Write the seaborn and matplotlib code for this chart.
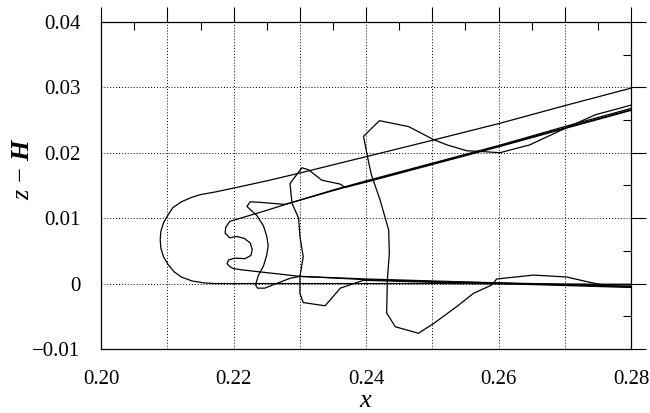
import numpy as np
import pandas as pd
import matplotlib
matplotlib.use("Agg")
import matplotlib.pyplot as plt
import seaborn as sns

# Smooth reference profile: upper flank, rounded nose, bed
smooth_x = [0.2801, 0.2700, 0.2602, 0.2500, 0.2400, 0.2300, 0.2250, 0.2200, 0.2172,
            0.2150, 0.2137, 0.2121, 0.2108, 0.2101, 0.2094, 0.2090, 0.2089, 0.2090,
            0.2094, 0.2101, 0.2110, 0.2121, 0.2137, 0.2155, 0.2172,
            0.2300, 0.2500, 0.2700, 0.2801]
smooth_y = [0.0299, 0.0272, 0.0245, 0.0219, 0.0194, 0.0169, 0.0157, 0.0146, 0.0140,
            0.0136, 0.0132, 0.0125, 0.0116, 0.0105, 0.0093, 0.0080, 0.0067, 0.0054,
            0.0041, 0.0029, 0.0018, 0.0010, 0.0004, 0.0001, 0.0000,
            0.0000, 0.0000, -0.0001, -0.0001]

# Profile with the small wavy head
wavy_x = [0.2801, 0.2700, 0.2600, 0.2500, 0.2400, 0.2350, 0.2288, 0.2250, 0.2194,
          0.2188, 0.2187, 0.2194, 0.2205, 0.2216, 0.2225, 0.2228, 0.2226, 0.2217,
          0.2202, 0.2192, 0.2190, 0.2194, 0.2199, 0.2212,
          0.2300, 0.2400, 0.2500, 0.2600, 0.2700, 0.2801]
wavy_y = [0.0266, 0.0238, 0.0210, 0.0183, 0.0156, 0.0142, 0.0124, 0.0112, 0.0095,
          0.0086, 0.0077, 0.0070, 0.0072, 0.0069, 0.0062, 0.0052, 0.0043, 0.0038,
          0.0039, 0.0036, 0.0030, 0.0026, 0.0023, 0.0021,
          0.0011, 0.0006, 0.0003, 0.0001, -0.0001, -0.0002]

# Profile with the C-shaped head
cshape_x = [0.2801, 0.2700, 0.2600, 0.2500, 0.2400, 0.2350, 0.2288,
            0.2277, 0.2242, 0.2225, 0.2220, 0.2225, 0.2235, 0.2245, 0.2250, 0.2252,
            0.2250, 0.2245, 0.2237, 0.2233, 0.2236, 0.2247, 0.2262, 0.2285, 0.2300,
            0.2400, 0.2500, 0.2600, 0.2700, 0.2801]
cshape_y = [0.0268, 0.0240, 0.0211, 0.0184, 0.0157, 0.0143, 0.0124,
            0.0121, 0.0124, 0.0125, 0.0118, 0.0113, 0.0104, 0.0088, 0.0072, 0.0058,
            0.0044, 0.0027, 0.0012, -0.0002, -0.0007, -0.0007, -0.0001, 0.0008, 0.0011,
            0.0007, 0.0004, 0.0001, -0.0002, -0.0004]

# Profile with the narrow jagged head
narrow_x = [0.2801, 0.2700, 0.2600, 0.2500, 0.2400, 0.2368,
            0.2361, 0.2333, 0.2313, 0.2303, 0.2285, 0.2288, 0.2298, 0.2300, 0.2305,
            0.2300, 0.2300, 0.2305, 0.2338, 0.2361, 0.2396,
            0.2500, 0.2600, 0.2700, 0.2801]
narrow_y = [0.0265, 0.0237, 0.0209, 0.0182, 0.0155, 0.0147,
            0.0152, 0.0158, 0.0174, 0.0177, 0.0153, 0.0123, 0.0100, 0.0072, 0.0041,
            0.0011, -0.0015, -0.0029, -0.0034, -0.0007, 0.0005,
            0.0002, 0.0000, -0.0003, -0.0006]

# Profile with the wide jagged head
wide_x = [0.2801, 0.2746, 0.2700, 0.2647, 0.2602, 0.2572, 0.2552, 0.2522, 0.2502,
          0.2464, 0.2420, 0.2396, 0.2403, 0.2408, 0.2421, 0.2434, 0.2435, 0.2432,
          0.2431, 0.2444, 0.2479, 0.2502, 0.2537, 0.2562, 0.2590, 0.2597, 0.2653,
          0.2703, 0.2733, 0.2766, 0.2801]
wide_y = [0.0273, 0.0258, 0.0237, 0.0212, 0.0200, 0.0202, 0.0203, 0.0212, 0.0220,
          0.0240, 0.0249, 0.0225, 0.0189, 0.0166, 0.0128, 0.0082, 0.0046, 0.0005,
          -0.0045, -0.0066, -0.0076, -0.0061, -0.0035, -0.0015, -0.0002, 0.0007, 0.0013,
          0.0010, 0.0003, -0.0004, -0.0005]

x_major = [0.20, 0.21, 0.22, 0.23, 0.24, 0.25, 0.26, 0.27, 0.28]
x_labels = ["0.20", "", "0.22", "", "0.24", "", "0.26", "", "0.28"]
y_major = [-0.01, 0.0, 0.01, 0.02, 0.03, 0.04]
y_labels = ["\u22120.01", "0", "0.01", "0.02", "0.03", "0.04"]

profiles = {
    "smooth": (smooth_x, smooth_y),
    "wavy": (wavy_x, wavy_y),
    "cshape": (cshape_x, cshape_y),
    "narrow": (narrow_x, narrow_y),
    "wide": (wide_x, wide_y),
}
frames = []
for name, (xs, ys) in profiles.items():
    frames.append(pd.DataFrame({"x": xs, "y": ys, "profile": name}))
df = pd.concat(frames, ignore_index=True)

sns.set_theme(style="white")
plt.rcParams["font.family"] = ["Liberation Serif", "DejaVu Serif"]
plt.rcParams["mathtext.fontset"] = "custom"
plt.rcParams["mathtext.rm"] = "Liberation Serif"
plt.rcParams["mathtext.it"] = "Liberation Serif:italic"
plt.rcParams["mathtext.bf"] = "Liberation Serif:italic:bold"

fig = plt.figure(figsize=(6.5, 4.13), dpi=100)
ax = fig.add_axes([0.1558, 0.155, 0.815, 0.792])

sns.lineplot(data=df, x="x", y="y", units="profile", estimator=None, sort=False,
             color="black", linewidth=0.9, ax=ax, legend=False)

ax.set_xlim(0.20, 0.28)
ax.set_ylim(-0.01, 0.04)
ax.set_xticks(x_major)
ax.set_xticklabels(x_labels)
ax.set_xticks(np.arange(0.205, 0.28, 0.01), minor=True)
ax.set_yticks(y_major)
ax.set_yticklabels(y_labels)
ax.set_yticks(np.arange(-0.005, 0.04, 0.01), minor=True)

ax.tick_params(which="major", direction="out", length=11, width=0.8, color="black",
               top=True, right=True, labelsize=15, pad=4, labelcolor="black")
ax.tick_params(which="minor", direction="in", length=6, width=0.8, color="black",
               top=True, right=True)
ax.grid(which="major", linestyle=(0, (1, 2)), color="black", linewidth=0.7)
for side in ax.spines.values():
    side.set_color("black")
    side.set_linewidth(0.9)

ax.set_xlabel(r"$x$", fontsize=19, color="black", va="center")
ax.xaxis.set_label_coords(0.5, -0.158)
ax.set_ylabel(r"$z\,-\,\mathbf{H}$", fontsize=19, color="black", va="center")
ax.yaxis.set_label_coords(-0.147, 0.55)

fig.savefig("out.png", dpi=100, facecolor="white")
